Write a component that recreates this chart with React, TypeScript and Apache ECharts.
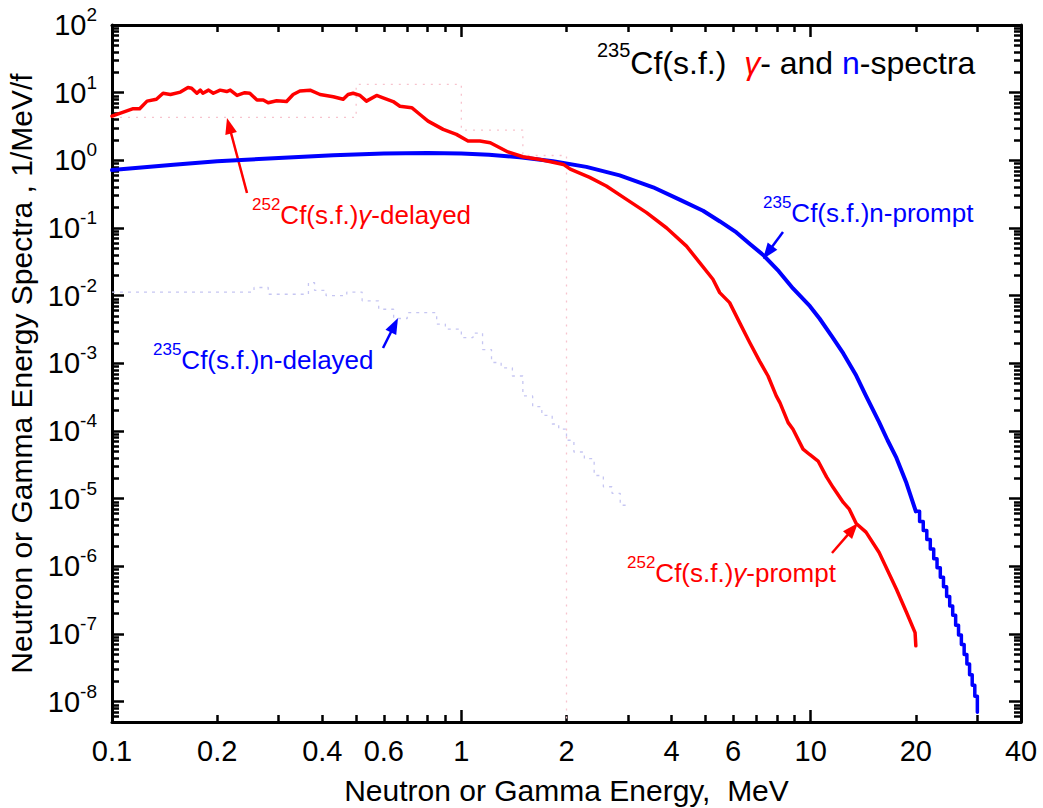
import React, { useEffect, useRef } from "react";
import * as echarts from "echarts";

// ---- data (energy in MeV, spectrum in 1/MeV/f) ----
const gammaSpectrum: [number, number][] = [
  [0.1, 4.5], [0.115, 5.8], [0.12, 5.8], [0.126, 7.5], [0.134, 8.0], [0.14, 9.8], [0.147, 9.4],
  [0.157, 10.2], [0.165, 11.9], [0.169, 11.6], [0.175, 9.8], [0.179, 10.9], [0.182, 9.8],
  [0.189, 10.9], [0.195, 9.8], [0.204, 10.9], [0.213, 10.4], [0.218, 10.9], [0.228, 9.1],
  [0.24, 10.0], [0.248, 9.8], [0.26, 7.8], [0.271, 7.8], [0.28, 7.1], [0.296, 7.6], [0.316, 7.4],
  [0.33, 9.4], [0.345, 10.6], [0.369, 10.9], [0.394, 9.4], [0.43, 8.7], [0.459, 8.0], [0.474, 9.4],
  [0.49, 9.8], [0.513, 9.1], [0.535, 7.5], [0.572, 9.1], [0.597, 8.4], [0.638, 7.4], [0.667, 6.3],
  [0.721, 6.0], [0.76, 4.8], [0.803, 3.8], [0.887, 2.87], [0.968, 2.42], [1.045, 1.93], [1.13, 1.93],
  [1.21, 1.82], [1.36, 1.33], [1.5, 1.13], [1.68, 1.03], [1.96, 0.87], [2.05, 0.74], [2.33, 0.56],
  [2.6, 0.417], [2.97, 0.265], [3.39, 0.169], [3.87, 0.1], [4.41, 0.054], [4.81, 0.0308],
  [5.25, 0.0175], [5.49, 0.0111], [5.86, 0.0079], [6.26, 0.004], [6.69, 0.00203], [7.14, 0.00108],
  [7.55, 6.5e-4], [7.97, 3.3e-4], [8.17, 2.6e-4], [8.62, 1.33e-4], [8.9, 1.06e-4], [9.51, 5.4e-5],
  [9.93, 4.5e-5], [10.5, 3.6e-5], [11.1, 2.1e-5], [11.6, 1.46e-5], [12.4, 8.8e-6], [12.9, 7.0e-6],
  [13.5, 4.3e-6], [14.4, 3.2e-6], [15.7, 1.6e-6], [17.6, 4.6e-7], [18.8, 2.1e-7], [19.9, 1.05e-7],
  [20.0, 6.7e-8],
];

const neutronPrompt: [number, number][] = [
  [0.1, 0.72], [0.15, 0.86], [0.2, 0.97], [0.3, 1.08], [0.43, 1.19], [0.6, 1.26], [0.8, 1.28],
  [1.0, 1.26], [1.2, 1.21], [1.47, 1.11], [1.83, 0.97], [2.28, 0.8], [2.84, 0.6], [3.54, 0.4],
  [4.23, 0.26], [4.92, 0.18], [5.5, 0.125], [6.13, 0.086], [6.7, 0.058], [7.31, 0.04], [8.1, 0.023],
  [8.9, 0.0128], [9.95, 0.007], [10.6, 0.0046], [11.5, 0.0025], [12.4, 0.0014], [13.5, 6.6e-4],
  [14.4, 3.3e-4], [15.7, 1.35e-4], [16.6, 7.3e-5], [17.6, 4.0e-5], [18.8, 1.7e-5], [20, 6.5e-6],
];

const neutronPromptTail: [number, number][] = [
  [20, 6.5e-6], [20.5, 4.6e-6], [21, 3.4e-6], [21.5, 2.5e-6], [22, 1.8e-6], [22.5, 1.3e-6],
  [23, 9.5e-7], [23.5, 6.9e-7], [24, 5.0e-7], [24.5, 3.6e-7], [25, 2.6e-7], [25.5, 1.9e-7],
  [26, 1.35e-7], [26.5, 9.7e-8], [27, 7.0e-8], [27.5, 5.0e-8], [28, 3.6e-8], [28.5, 2.5e-8],
  [29, 1.75e-8], [29.5, 1.2e-8], [30, 7.0e-9],
];

const neutronDelayed: [number, number][] = [
  [0.1, 1.13e-2], [0.255, 1.32e-2], [0.28, 1.05e-2], [0.365, 1.56e-2], [0.38, 1.2e-2], [0.41, 1.0e-2],
  [0.47, 1.13e-2], [0.52, 8.4e-3], [0.58, 6.3e-3], [0.64, 4.6e-3], [0.7, 5.6e-3], [0.85, 3.8e-3],
  [0.9, 3.2e-3], [1.0, 2.4e-3], [1.08, 2.8e-3], [1.15, 1.6e-3], [1.22, 1.03e-3], [1.3, 8.6e-4],
  [1.4, 6.5e-4], [1.5, 3.3e-4], [1.6, 2.3e-4], [1.7, 1.7e-4], [1.82, 1.27e-4], [1.9, 1.07e-4],
  [2.0, 7.3e-5], [2.1, 4.9e-5], [2.25, 3.9e-5], [2.4, 2.2e-5], [2.55, 1.5e-5], [2.7, 1.2e-5],
  [2.85, 8.0e-6], [3.0, 8.0e-6],
];

const gammaDelayedBins: [number, number][] = [
  [0.1, 4.3], [0.5, 13.3], [1.0, 2.8], [1.5, 1.18], [2.0, 1e-10],
];

const xLabelValues = [0.1, 0.2, 0.4, 0.6, 1, 2, 4, 6, 10, 20, 40];
const xMajorTicks = [0.1, 1, 10];
const xMinorTicks = [0.2, 0.3, 0.4, 0.5, 0.6, 0.7, 0.8, 0.9, 2, 3, 4, 5, 6, 7, 8, 9, 20, 30];
const yDecadeExponents = [-8, -7, -6, -5, -4, -3, -2, -1, 0, 1, 2];

const X_MIN = -1;
const X_MAX = Math.log10(40);
const Y_MIN = -8.3;
const Y_MAX = 2;

const FONT = "'Liberation Sans', Arial, sans-serif";
const RED = "#ff0000";
const BLUE = "#0000ff";

const lg = (pts: [number, number][]) => pts.map(([e, v]) => [Math.log10(e), Math.log10(v)]);

const yMinorTicks: number[] = [];
for (let d = -9; d <= 1; d++) {
  for (let k = 2; k <= 9; k++) {
    const v = d + Math.log10(k);
    if (v > Y_MIN && v < Y_MAX) yMinorTicks.push(v);
  }
}

function arrow(x1: number, y1: number, x2: number, y2: number, color: string) {
  const dx = x2 - x1, dy = y2 - y1;
  const len = Math.hypot(dx, dy);
  const ux = dx / len, uy = dy / len;
  const hl = 16, hw = 6;
  const bx = x2 - ux * hl, by = y2 - uy * hl;
  return [
    { type: "line", silent: true, shape: { x1, y1, x2: bx + ux * 2, y2: by + uy * 2 }, style: { stroke: color, lineWidth: 2.5 } },
    {
      type: "polygon", silent: true,
      shape: { points: [[x2, y2], [bx - uy * hw, by + ux * hw], [bx + uy * hw, by - ux * hw]] },
      style: { fill: color },
    },
  ];
}

// text = rich string using tokens s (superscript), m (main), g (gamma)
function label(x: number, y: number, text: string, color: string) {
  return {
    type: "text", silent: true, x, y,
    style: {
      text,
      verticalAlign: "middle", align: "left",
      rich: {
        s: { fontSize: 17, lineHeight: 17, verticalAlign: "top", fill: color, fontFamily: FONT },
        m: { fontSize: 26, lineHeight: 39, fill: color, fontFamily: FONT },
        g: { fontSize: 26, lineHeight: 39, fill: color, fontFamily: FONT, fontStyle: "italic" },
      },
    },
  };
}

export default function App() {
  const ref = useRef<HTMLDivElement>(null);
  useEffect(() => {
    document.body.style.margin = "0";
    document.body.style.overflow = "hidden";
    if (!ref.current) return;
    const chart = echarts.init(ref.current, undefined, { renderer: "svg" });

    const baseAxis = (min: number, max: number) => ({
      type: "value", min, max, splitLine: { show: false }, axisPointer: { show: false },
    });
    const tickStyle = { color: "#000", width: 2.5 };

    const xAxes = [
      {
        ...baseAxis(X_MIN, X_MAX), position: "bottom",
        axisLine: { show: true, onZero: false, lineStyle: { color: "#000", width: 3 } },
        axisTick: { show: true, inside: true, length: 12, lineStyle: tickStyle, customValues: xMajorTicks.map(Math.log10) },
        axisLabel: {
          show: true, margin: 14, fontSize: 29, color: "#000", fontFamily: FONT,
          customValues: xLabelValues.map(Math.log10),
          formatter: (v: number) => String(Number(Math.pow(10, v).toPrecision(2))),
        },
        name: "Neutron or Gamma Energy,  MeV", nameLocation: "middle", nameGap: 53,
        nameTextStyle: { fontSize: 30, color: "#000", fontFamily: FONT },
      },
      {
        ...baseAxis(X_MIN, X_MAX), position: "bottom",
        axisLine: { show: false, onZero: false },
        axisTick: { show: true, inside: true, length: 7, lineStyle: tickStyle, customValues: xMinorTicks.map(Math.log10) },
        axisLabel: { show: false },
      },
      {
        ...baseAxis(X_MIN, X_MAX), position: "top",
        axisLine: { show: true, onZero: false, lineStyle: { color: "#000", width: 3 } },
        axisTick: { show: true, inside: true, length: 12, lineStyle: tickStyle, customValues: xMajorTicks.map(Math.log10) },
        axisLabel: { show: false },
      },
      {
        ...baseAxis(X_MIN, X_MAX), position: "top",
        axisLine: { show: false, onZero: false },
        axisTick: { show: true, inside: true, length: 7, lineStyle: tickStyle, customValues: xMinorTicks.map(Math.log10) },
        axisLabel: { show: false },
      },
    ];

    const yAxes = [
      {
        ...baseAxis(Y_MIN, Y_MAX), position: "left",
        axisLine: { show: true, onZero: false, lineStyle: { color: "#000", width: 3 } },
        axisTick: { show: true, inside: true, length: 12, lineStyle: tickStyle, customValues: yDecadeExponents },
        axisLabel: {
          show: true, margin: 15, color: "#000", fontFamily: FONT,
          customValues: yDecadeExponents,
          formatter: (v: number) => `{b|10}{s|${Math.round(v)}}`,
          rich: {
            b: { fontSize: 29, lineHeight: 40, fontFamily: FONT, color: "#000" },
            s: { fontSize: 19, lineHeight: 19, verticalAlign: "top", fontFamily: FONT, color: "#000" },
          },
        },
        name: "Neutron or Gamma Energy Spectra , 1/MeV/f", nameLocation: "middle", nameGap: 75,
        nameTextStyle: { fontSize: 30, color: "#000", fontFamily: FONT },
      },
      {
        ...baseAxis(Y_MIN, Y_MAX), position: "left",
        axisLine: { show: false, onZero: false },
        axisTick: { show: true, inside: true, length: 7, lineStyle: tickStyle, customValues: yMinorTicks },
        axisLabel: { show: false },
      },
      {
        ...baseAxis(Y_MIN, Y_MAX), position: "right",
        axisLine: { show: true, onZero: false, lineStyle: { color: "#000", width: 3 } },
        axisTick: { show: true, inside: true, length: 12, lineStyle: tickStyle, customValues: yDecadeExponents },
        axisLabel: { show: false },
      },
      {
        ...baseAxis(Y_MIN, Y_MAX), position: "right",
        axisLine: { show: false, onZero: false },
        axisTick: { show: true, inside: true, length: 7, lineStyle: tickStyle, customValues: yMinorTicks },
        axisLabel: { show: false },
      },
    ];

    const lineSeries = (data: number[][], color: string, width: number, extra: any = {}) => ({
      type: "line", data, xAxisIndex: 0, yAxisIndex: 0, symbol: "none", clip: true,
      lineStyle: { color, width, join: "round", cap: "round" }, silent: true, ...extra,
    });

    chart.setOption({
      animation: false,
      textStyle: { fontFamily: FONT },
      grid: { left: 112, right: 22, top: 25, bottom: 86, containLabel: false, outerBoundsMode: "none" },
      xAxis: xAxes,
      yAxis: yAxes,
      series: [
        lineSeries(lg(gammaDelayedBins), "#f7c3cd", 1.3, { step: "end", lineStyle: { color: "#f7c3cd", width: 1.3, type: [2, 6] } }),
        lineSeries(lg(neutronDelayed), "#c6c6f2", 1.3, { step: "end", lineStyle: { color: "#c6c6f2", width: 1.3, type: [3, 5] } }),
        lineSeries(lg(neutronPrompt), BLUE, 4),
        lineSeries(lg(neutronPromptTail), BLUE, 3.5, { step: "end" }),
        lineSeries(lg(gammaSpectrum), RED, 3.5),
      ],
      graphic: [
        {
          type: "text", silent: true, x: 597, y: 63,
          style: {
            text: "{s|235}{k|Cf(s.f.)  }{r|γ}{k|- and }{b|n}{k|-spectra}",
            verticalAlign: "middle", align: "left",
            rich: {
              s: { fontSize: 20, lineHeight: 20, verticalAlign: "top", fill: "#000", fontFamily: FONT },
              k: { fontSize: 32, lineHeight: 46, fill: "#000", fontFamily: FONT },
              r: { fontSize: 32, lineHeight: 46, fill: RED, fontFamily: FONT, fontStyle: "italic" },
              b: { fontSize: 32, lineHeight: 46, fill: BLUE, fontFamily: FONT },
            },
          },
        },
        label(252, 215, "{s|252}{m|Cf(s.f.)}{g|γ}{m|-delayed}", RED),
        label(763, 213, "{s|235}{m|Cf(s.f.)n-prompt}", BLUE),
        label(153, 360, "{s|235}{m|Cf(s.f.)n-delayed}", BLUE),
        label(627, 573, "{s|252}{m|Cf(s.f.)}{g|γ}{m|-prompt}", RED),
        ...arrow(247, 193, 227, 118, RED),
        ...arrow(383, 348, 398, 318, BLUE),
        ...arrow(783, 232, 763, 259, BLUE),
        ...arrow(832, 553, 858, 523, RED),
      ],
    });
    return () => chart.dispose();
  }, []);
  return <div ref={ref} style={{ width: 1043, height: 808 }} />;
}
